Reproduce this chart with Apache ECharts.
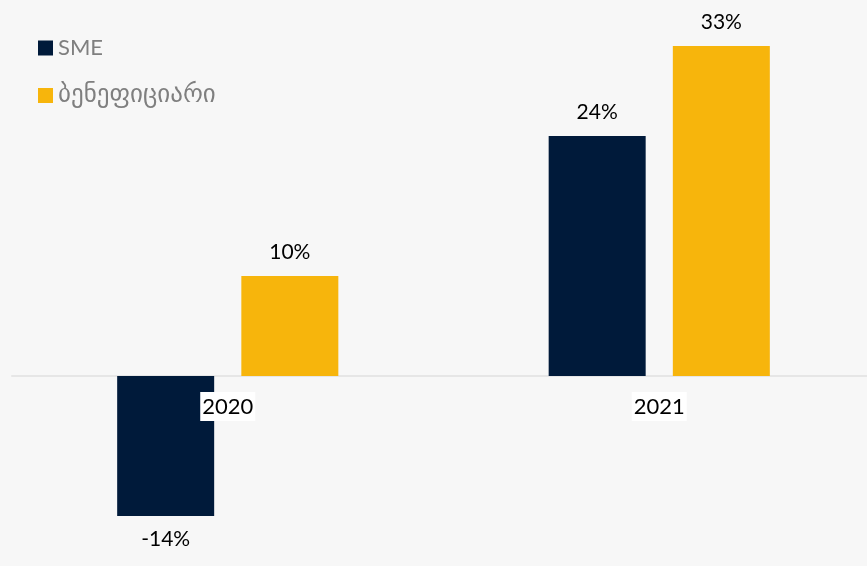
<!DOCTYPE html>
<html>
<head>
<meta charset="utf-8">
<script src="https://cdn.jsdelivr.net/npm/echarts@6/dist/echarts.min.js"></script>
<style>
  html, body { margin: 0; padding: 0; background: #f7f7f7; }
  #chart { width: 867px; height: 566px; }
</style>
</head>
<body>
<div id="chart"></div>
<script>
// Year categories and growth rates (%)
const years = ['2020', '2021'];
const smeValues = [-14, 24];
const beneficiaryValues = [10, 33];
const seriesNames = ['SME', 'ბენეფიციარი'];

const FONT = 'Lato, "Noto Sans", sans-serif';
const Y_MIN = -18, Y_MAX = 36;
const GRID_TOP = 16, GRID_HEIGHT = 540;
// distance from the grid bottom up to the zero line
const zeroOffset = GRID_HEIGHT * (0 - Y_MIN) / (Y_MAX - Y_MIN);

function valueLabels(values) {
  return values.map(v => ({
    value: v,
    label: { position: v < 0 ? 'bottom' : 'top' }
  }));
}

const chart = echarts.init(document.getElementById('chart'), null, { renderer: 'canvas' });
chart.setOption({
  backgroundColor: '#f7f7f7',
  animation: false,
  legend: {
    orient: 'vertical',
    left: 33,
    top: 32,
    itemWidth: 15,
    itemHeight: 15,
    itemGap: 24,
    icon: 'rect',
    textStyle: {
      color: '#7f7f7f', fontSize: 22, fontFamily: FONT,
      rich: { geo: { color: '#7f7f7f', fontSize: 25, fontFamily: '"DejaVu Sans", sans-serif' } }
    },
    formatter: name => /^[A-Za-z]+$/.test(name) ? name : '{geo|' + name + '}',
    data: seriesNames
  },
  grid: { left: 12, width: 863, top: GRID_TOP, height: GRID_HEIGHT, containLabel: false, outerBoundsMode: 'none' },
  xAxis: [
    {
      // zero line
      type: 'category',
      data: years,
      axisLine: { onZero: true, lineStyle: { color: '#e6e6e6', width: 2 } },
      axisTick: { show: false },
      axisLabel: { show: false }
    },
    {
      // year labels sitting just under the zero line, drawn over the bars
      type: 'category',
      data: years,
      position: 'bottom',
      offset: -zeroOffset,
      z: 10,
      axisLine: { show: false, onZero: false },
      axisTick: { show: false },
      axisLabel: {
        color: '#000',
        fontSize: 22,
        fontFamily: FONT,
        backgroundColor: '#ffffff',
        padding: [4, 2, 3, 2],
        margin: 16
      }
    }
  ],
  yAxis: {
    type: 'value',
    min: Y_MIN,
    max: Y_MAX,
    show: false,
    splitLine: { show: false }
  },
  series: [
    {
      name: seriesNames[0],
      type: 'bar',
      xAxisIndex: 0,
      data: valueLabels(smeValues),
      barWidth: 97,
      barGap: '28%',
      itemStyle: { color: '#001a3a' },
      label: {
        show: true,
        distance: 13,
        color: '#000',
        fontSize: 21,
        fontFamily: FONT,
        formatter: p => p.value + '%'
      }
    },
    {
      name: seriesNames[1],
      type: 'bar',
      xAxisIndex: 0,
      data: valueLabels(beneficiaryValues),
      barWidth: 97,
      itemStyle: { color: '#f7b50c' },
      label: {
        show: true,
        distance: 13,
        color: '#000',
        fontSize: 21,
        fontFamily: FONT,
        formatter: p => p.value + '%'
      }
    }
  ]
});
</script>
</body>
</html>
